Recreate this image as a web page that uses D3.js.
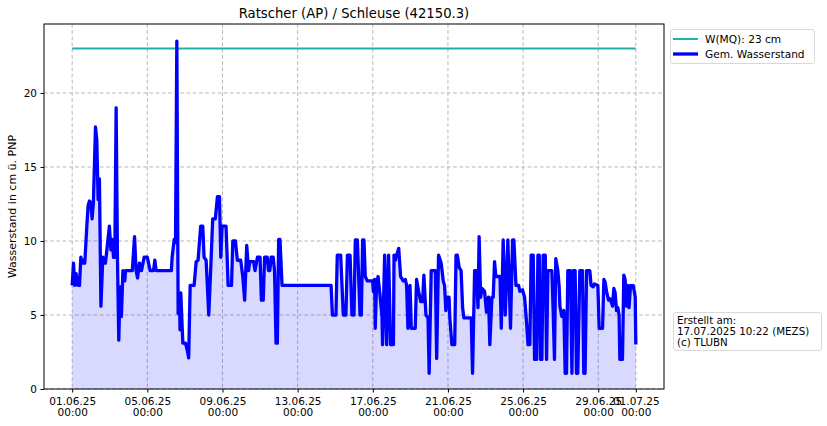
<!DOCTYPE html>
<html><head><meta charset="utf-8">
<script src="https://cdn.jsdelivr.net/npm/d3@7"></script>
<style>
html,body{margin:0;padding:0;background:#fff;}
svg{display:block;font-family:"DejaVu Sans",sans-serif;}
</style></head>
<body>
<svg id="chart" width="827" height="426"></svg>
<script>
// Days since 01.06.2025 00:00 and measured water level (cm)
const dayOffsets = [0.00,0.07,0.14,0.21,0.30,0.39,0.46,0.57,0.67,0.78,0.85,0.92,0.99,1.06,1.13,1.24,1.31,1.38,1.45,1.53,1.63,1.77,1.88,1.98,2.06,2.13,2.20,2.27,2.34,2.41,2.48,2.55,2.62,2.70,2.80,2.84,3.20,3.32,3.40,3.48,3.58,3.69,3.83,4.00,4.15,4.33,4.40,4.47,5.28,5.32,5.43,5.50,5.57,5.64,5.71,5.74,5.78,5.89,6.03,6.13,6.20,6.28,6.49,6.60,6.70,6.84,6.95,7.02,7.13,7.27,7.38,7.48,7.62,7.73,7.84,7.91,7.98,8.19,8.30,8.48,8.55,8.69,8.79,8.97,9.08,9.18,9.29,9.39,9.45,9.66,9.73,9.86,10.00,10.07,10.17,10.24,10.38,10.45,10.52,10.59,10.70,10.77,10.85,10.92,10.99,11.06,11.17,13.78,13.85,14.04,14.11,14.29,14.43,14.57,14.65,14.79,14.89,15.00,15.07,15.18,15.32,15.39,15.46,15.53,15.60,15.71,15.99,16.03,16.10,16.13,16.20,16.28,16.38,16.49,16.52,16.63,16.74,16.84,16.95,17.10,17.13,17.20,17.27,17.38,17.48,17.62,17.73,17.80,17.87,17.98,18.05,18.26,18.33,18.44,18.55,18.65,18.72,18.83,18.94,19.00,19.11,19.33,19.40,19.50,19.64,19.75,19.82,19.89,19.96,20.06,20.10,20.21,20.36,20.43,20.50,20.60,20.70,20.78,20.85,21.17,21.24,21.31,21.42,21.52,21.60,21.66,21.74,21.81,21.88,21.95,22.05,22.16,22.23,22.34,22.41,22.48,22.55,22.77,22.84,22.94,23.05,23.19,23.33,23.44,23.51,23.62,23.76,23.83,23.97,24.08,24.19,24.26,24.36,24.43,24.54,24.61,24.72,24.79,24.86,24.93,25.00,25.07,25.18,25.25,25.32,25.53,25.60,25.67,25.74,25.85,25.92,25.96,26.06,26.17,26.24,26.31,26.38,26.52,26.60,26.67,26.77,26.84,26.91,27.02,27.16,27.23,27.30,27.38,27.55,27.62,27.73,27.80,27.98,28.05,28.23,28.30,28.37,28.44,28.55,28.62,28.69,28.76,28.83,28.90,28.97,29.04,29.11,29.15,29.29,29.36,29.43,29.50,29.57,29.64,29.72,29.79,29.86,29.93,29.97,30.00];
const levels = [7.0,8.5,7.0,7.8,7.0,7.0,8.9,8.5,8.5,11.0,12.4,12.7,12.6,11.5,12.6,17.7,16.8,12.8,14.2,5.6,8.9,8.5,9.8,11.0,9.4,10.1,8.9,8.9,19.0,8.9,3.3,6.9,4.9,8.0,7.3,8.0,8.0,10.3,8.0,7.5,8.5,8.0,8.9,8.9,8.0,8.0,8.7,8.0,8.0,8.9,10.1,9.9,23.5,5.1,6.5,4.0,6.5,3.1,3.1,2.6,2.1,7.0,7.0,8.6,8.7,11.0,11.0,8.9,8.7,5.0,8.3,11.5,11.5,13.0,13.0,8.9,11.0,11.0,7.0,7.0,10.0,10.0,8.7,8.7,7.6,6.0,9.7,8.0,8.6,8.6,8.0,8.9,8.9,6.0,6.0,8.9,8.9,8.0,8.0,8.9,8.9,8.0,3.1,3.1,10.1,10.1,7.0,7.0,5.0,5.0,9.05,9.05,5.0,5.0,9.05,9.05,5.0,5.0,10.07,10.07,5.0,5.0,10.07,10.07,7.6,7.3,7.3,6.6,7.4,4.1,7.0,7.6,6.4,4.9,3.0,9.05,3.0,9.05,3.0,3.0,9.05,8.7,9.05,9.5,7.6,7.3,7.4,7.0,4.1,7.0,4.1,4.1,7.4,6.6,5.9,5.9,7.7,5.0,4.8,1.06,8.0,8.0,2.07,9.05,8.5,7.3,7.0,5.3,6.2,6.2,4.8,3.0,3.0,9.05,9.05,8.2,8.0,5.5,4.8,4.8,4.8,1.06,8.0,8.0,5.5,10.3,6.2,6.8,6.7,6.6,5.2,6.2,3.0,6.2,6.2,8.6,7.6,7.6,4.1,10.07,5.0,10.07,4.1,10.07,10.07,7.0,7.0,6.6,6.7,6.2,4.4,3.0,3.0,9.05,9.05,2.0,2.0,9.05,9.05,2.0,2.0,9.05,9.05,2.0,8.0,8.0,5.3,2.0,8.8,8.0,6.9,5.6,4.9,5.3,1.06,1.06,8.0,8.0,1.06,8.0,8.0,1.06,1.06,8.0,8.0,1.06,1.06,8.0,8.0,7.0,6.9,7.1,7.0,4.1,4.1,7.4,7.2,6.6,6.0,6.1,5.9,5.6,6.8,6.5,5.3,5.5,5.0,2.0,2.0,7.7,7.4,5.6,7.0,5.5,7.0,6.9,7.0,6.5,6.2,3.0];
const mqValue = 23;
const mqRangeDays = [0, 30];
const yTicks = [0, 5, 10, 15, 20];
const xTickDays = [0, 4, 8, 12, 16, 20, 24, 28, 30];
const titleText = "Ratscher (AP) / Schleuse (42150.3)";
const yLabel = "Wasserstand in cm ü. PNP";
const legendLabels = ["W(MQ): 23 cm", "Gem. Wasserstand"];
const noteLines = ["Erstellt am:", "17.07.2025 10:22 (MEZS)", "(c) TLUBN"];

const start = new Date(2025, 5, 1, 0, 0);
const toDate = d => new Date(start.getTime() + d * 86400000);
const data = dayOffsets.map((d, i) => ({t: toDate(d), v: levels[i]}));

const svg = d3.select("#chart");
const m = {l: 44, r: 664, t: 24, b: 389};
const x = d3.scaleTime().domain([toDate(-1.5), toDate(31.5)]).range([m.l, m.r]);
const y = d3.scaleLinear().domain([0, 24.66]).range([m.b, m.t]);

const fmt1 = d3.timeFormat("%d.%m.%y"), fmt2 = d3.timeFormat("%H:%M");

// grid
const grid = svg.append("g").attr("stroke", "#b0b0b0").attr("stroke-width", 0.9).attr("stroke-dasharray", "3.7,2.5");
xTickDays.forEach(d => grid.append("line").attr("x1", x(toDate(d))).attr("x2", x(toDate(d))).attr("y1", m.t).attr("y2", m.b));
yTicks.forEach(v => grid.append("line").attr("x1", m.l).attr("x2", m.r).attr("y1", y(v)).attr("y2", y(v)));

// fill (translucent so the grid shows through)
svg.append("path").datum(data)
  .attr("fill", "rgba(0,0,255,0.15)")
  .attr("d", d3.area().x(d => x(d.t)).y0(y(0)).y1(d => y(d.v)));

// MQ line
svg.append("line")
  .attr("x1", x(toDate(mqRangeDays[0]))).attr("x2", x(toDate(mqRangeDays[1])))
  .attr("y1", y(mqValue)).attr("y2", y(mqValue))
  .attr("stroke", "#20b2aa").attr("stroke-width", 2);

// water level line
svg.append("path").datum(data)
  .attr("fill", "none").attr("stroke", "#0000ff").attr("stroke-width", 3.3)
  .attr("stroke-linejoin", "round")
  .attr("d", d3.line().x(d => x(d.t)).y(d => y(d.v)));

// axes
const xAxis = d3.axisBottom(x).tickValues(xTickDays.map(toDate)).tickSize(3.5).tickPadding(3).tickFormat("");
const gx = svg.append("g").attr("transform", `translate(0,${m.b})`).call(xAxis);
gx.select(".domain").remove();
gx.selectAll(".tick").each(function(d) {
  const g = d3.select(this);
  const t = g.append("text").attr("fill", "#000").attr("font-size", 10.5).attr("font-family", "DejaVu Sans").attr("text-anchor", "middle").attr("y", 16);
  t.append("tspan").attr("x", 0).text(fmt1(d));
  t.append("tspan").attr("x", 0).attr("dy", 10.5).text(fmt2(d));
});
const yAxis = d3.axisLeft(y).tickValues(yTicks).tickSize(3.5).tickPadding(3.5);
const gy = svg.append("g").attr("transform", `translate(${m.l},0)`).call(yAxis);
gy.select(".domain").remove();
gy.selectAll("text").attr("font-size", 10.5).attr("font-family", "DejaVu Sans");
svg.selectAll(".tick line").attr("stroke", "#000");

// frame
svg.append("rect").attr("x", m.l).attr("y", m.t).attr("width", m.r - m.l).attr("height", m.b - m.t)
  .attr("fill", "none").attr("stroke", "#000").attr("stroke-width", 1);

// title & label
svg.append("text").attr("x", (m.l + m.r) / 2).attr("y", 18).attr("text-anchor", "middle").attr("font-size", 13.2).text(titleText);
svg.append("text").attr("transform", `translate(15.5,${(m.t + m.b) / 2}) rotate(-90)`).attr("text-anchor", "middle").attr("font-size", 11).text(yLabel);

// legend
const lg = svg.append("g");
lg.append("rect").attr("x", 670.5).attr("y", 29.5).attr("width", 144).attr("height", 34).attr("rx", 2.5)
  .attr("fill", "#fff").attr("stroke", "#d8d8d8");
const lc = [{c: "#20b2aa", w: 2}, {c: "#0000ff", w: 3.3}];
legendLabels.forEach((s, i) => {
  const yy = 39 + i * 15;
  lg.append("line").attr("x1", 673).attr("x2", 698).attr("y1", yy).attr("y2", yy).attr("stroke", lc[i].c).attr("stroke-width", lc[i].w);
  lg.append("text").attr("x", 705).attr("y", yy + 4).attr("font-size", 10.6).text(s);
});

// note box
const nb = svg.append("g");
nb.append("rect").attr("x", 673.5).attr("y", 312.5).attr("width", 148).attr("height", 38).attr("rx", 2.5)
  .attr("fill", "#fff").attr("stroke", "#d8d8d8");
noteLines.forEach((s, i) => nb.append("text").attr("x", 677).attr("y", 324 + i * 11).attr("font-size", 10.3).text(s));
</script>
</body></html>
